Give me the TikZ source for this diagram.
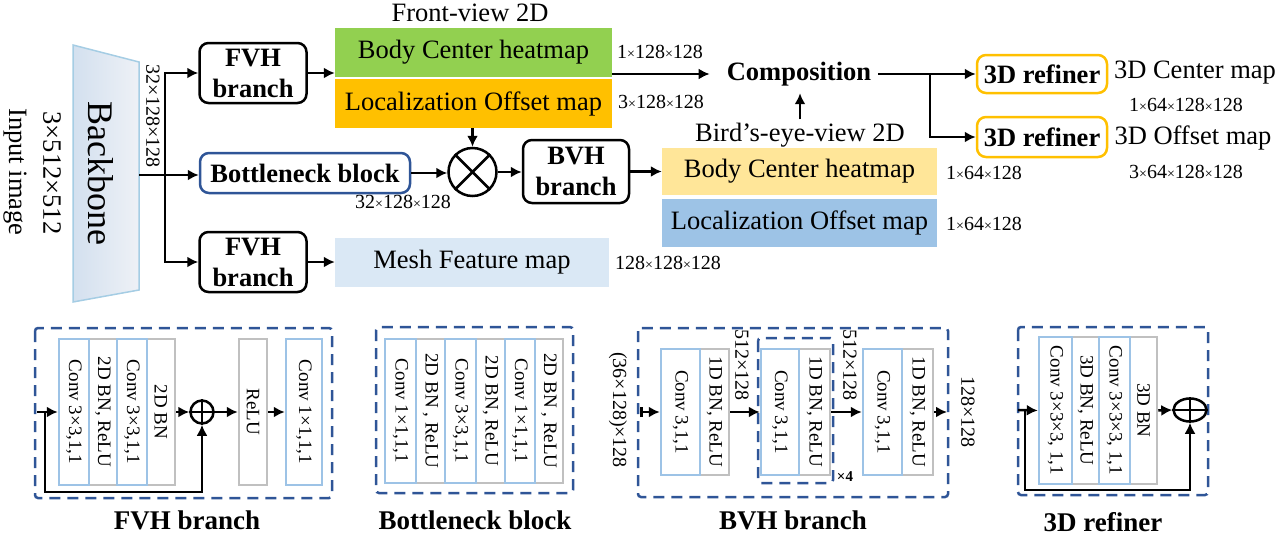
\documentclass[tikz,border=0pt]{standalone}
\usepackage{fontspec}
\usepackage{graphicx}
\setmainfont{Liberation Serif}
\usetikzlibrary{arrows.meta,shapes.geometric}
\definecolor{greenmap}{HTML}{92D050}
\definecolor{orangemap}{HTML}{FFC000}
\definecolor{yellowmap}{HTML}{FFE699}
\definecolor{bluemap}{HTML}{9DC3E6}
\definecolor{meshmap}{HTML}{DAE8F5}
\definecolor{darkblue}{HTML}{2F5597}
\definecolor{convblue}{HTML}{9DC3E6}
\definecolor{bngray}{HTML}{C0C0C0}
\definecolor{bbedge}{HTML}{A5CDE4}
\definecolor{bbleft}{HTML}{D3E0EF}
\definecolor{bbright}{HTML}{EEF1F6}
\newcommand{\mainfs}{\fontsize{26.5}{31}\selectfont}
\newcommand{\dimfs}{\fontsize{20}{22}\selectfont}
\newcommand{\layerfs}{\fontsize{19}{21}\selectfont}
\tikzstyle{blockbox}=[draw=black,line width=2.5pt,rounded corners=9pt,
                      align=center,font=\mainfs\bfseries,inner sep=0pt]
\tikzstyle{mapbox}=[minimum width=277,minimum height=49,
                    inner sep=0pt,font=\mainfs]
\tikzstyle{layer}=[line width=2.5pt,inner sep=0pt,font=\layerfs]
\tikzstyle{convlayer}=[layer,draw=convblue]
\tikzstyle{bnlayer}=[layer,draw=bngray]
\tikzstyle{dashbox}=[draw=darkblue,line width=2.5pt,
                     dash pattern=on 11pt off 7pt,rounded corners=3pt]
\tikzstyle{arr}=[line width=2.5pt,-{Latex[length=11pt,width=11pt]}]
\tikzstyle{wire}=[line width=2.5pt]
\tikzstyle{sumdot}=[draw=black,line width=2.5pt,inner sep=0pt]
\tikzstyle{titlelab}=[font=\fontsize{27}{30}\selectfont\bfseries]

\begin{document}
\begin{tikzpicture}[x=1pt,y=-1pt]
    \newcommand{\smx}{{\fontsize{14}{14}\selectfont×}}
    \useasboundingbox (0,0) rectangle (1288,538);

    % top part
    \shade[left color=bbleft,right color=bbright,draw=bbedge,line width=1.5pt]
        (73,45) -- (139,62) -- (139,290) -- (73,302) -- cycle;
    \node (bb) at (101,173) [rotate=-90,font=\fontsize{36}{40}\selectfont]{Backbone};
    \node (insize) at (52,173) [rotate=-90,font=\mainfs]{3×512×512};
    \node (inimg) at (15,172) [rotate=-90,font=\mainfs]{Input image};
    \node (bbsize) at (153,116) [rotate=-90,font=\dimfs]{32×128×128};
    \coordinate (bbout) at (139,175);
    \coordinate (split) at (165,175);

    \node (fvhA) at (253,73) [blockbox,minimum width=107,minimum height=60]{FVH\\branch};
    \node (neck) at (305,173) [blockbox,draw=darkblue,minimum width=210,minimum height=40]{Bottleneck block};
    \node (fvhB) at (253,262) [blockbox,minimum width=107,minimum height=60]{FVH\\branch};
    \draw[wire] (bbout) -- (split);
    \draw[arr] (split) |- (fvhA.west);
    \draw[arr] (split) -- (split -| neck.west);
    \draw[arr] (split) |- (fvhB.west);

    \node (fv) at (470,13) [font=\mainfs]{Front-view 2D};
    \node (center2d) at (473.5,52) [mapbox,fill=greenmap]{Body Center heatmap};
    \node (offset2d) at (473.5,103.5) [mapbox,fill=orangemap]{Localization Offset map};
    \node (c2dsize) at (660,52) [font=\dimfs]{1\smx128\smx128};
    \node (o2dsize) at (661,102) [font=\dimfs]{3\smx128\smx128};
    \draw[arr] (fvhA.east) -- (fvhA.east -| center2d.west);

    \node (mesh) at (472,262.5) [mapbox,minimum width=274,fill=meshmap]{Mesh Feature map};
    \node (meshsize) at (668,263) [font=\dimfs]{128\smx128\smx128};
    \draw[arr] (fvhB.east) -- (fvhB.east -| mesh.west);

    \node (mul) at (472.5,172) [circle,draw=black,line width=2.5pt,minimum size=48,inner sep=0pt]{};
    \draw[wire] (mul.north west) -- (mul.south east) (mul.north east) -- (mul.south west);
    \draw[arr] (mul.north |- offset2d.south) -- (mul.north);
    \draw[arr] (neck.east) -- (neck.east -| mul.west);
    \node (necksize) at (403,202) [font=\dimfs]{32\smx128\smx128};
    \node (bvh) at (576,171.5) [blockbox,minimum width=106,minimum height=63]{BVH\\branch};
    \draw[arr] (mul.east) -- (mul.east -| bvh.west);

    \node (centerbev) at (799.5,171.5) [mapbox,minimum width=275,minimum height=47,fill=yellowmap]{Body Center heatmap};
    \node (offsetbev) at (799.5,223) [mapbox,minimum width=275,minimum height=48,fill=bluemap]{Localization Offset map};
    \node (cbevsize) at (984,173) [font=\dimfs]{1\smx64\smx128};
    \node (obevsize) at (984,224) [font=\dimfs]{1\smx64\smx128};
    \draw[arr] (bvh.east) -- (bvh.east -| centerbev.west);

    \node (comp) at (799,74) [font=\mainfs\bfseries,inner sep=7pt]{Composition};
    \node (bev) at (800,135) [font=\mainfs]{Bird’s-eye-view 2D};
    \draw[arr,shorten >=10pt] (center2d.east |- comp) -- (comp.west);
    \draw[arr] (bev.north) -- (bev.north |- comp.south);

    \node (refA) at (1042,74) [blockbox,draw=orangemap,minimum width=130,minimum height=38]{3D refiner};
    \node (refB) at (1042,137) [blockbox,draw=orangemap,minimum width=130,minimum height=40]{3D refiner};
    \coordinate (fork) at (930,74);
    \draw[arr] (comp.east) -- (refA.west);
    \draw[arr] (fork) |- (refB.west);
    \node (cmap) at (1195,73) [font=\mainfs]{3D Center map};
    \node (cmapsize) at (1186,105) [font=\dimfs]{1\smx64\smx128\smx128};
    \node (omap) at (1193,138) [font=\mainfs]{3D Offset map};
    \node (omapsize) at (1186,172) [font=\dimfs]{3\smx64\smx128\smx128};

    % FVH branch
    \draw[dashbox] (35,328) rectangle (332,498);
    \node (fb1) at (103,412) [bnlayer,minimum width=28,minimum height=146]{\rotatebox{-90}{2D BN, ReLU}};
    \node (fb2) at (161,412) [bnlayer,minimum width=28,minimum height=146]{\rotatebox{-90}{2D BN}};
    \node (frelu) at (253,412) [bnlayer,minimum width=28,minimum height=146]{\rotatebox{-90}{ReLU}};
    \node (fc1) at (74,412) [convlayer,minimum width=30,minimum height=146]{\rotatebox{-90}{Conv 3×3,1,1}};
    \node (fc2) at (132,412) [convlayer,minimum width=30,minimum height=146]{\rotatebox{-90}{Conv 3×3,1,1}};
    \node (fc3) at (304,412) [convlayer,minimum width=36,minimum height=146]{\rotatebox{-90}{Conv 1×1,1,1}};
    \node (fplus) at (202,412) [sumdot,circle,minimum size=23]{};
    \draw[line width=2pt] (fplus.north) -- (fplus.south) (fplus.west) -- (fplus.east);
    \coordinate (fin) at (37,412);
    \coordinate (fskip) at (45,412);
    \coordinate (fbot) at (45,492);
    \draw[arr] (fin) -- (fc1.west);
    \draw[arr] (fskip) -- (fbot) -| (fplus.south);
    \draw[arr] (fb2.east) -- (fplus.west);
    \draw[arr] (fplus.east) -- (frelu.west);
    \draw[arr] (frelu.east) -- (fc3.west);
    \node (fvhlab) at (187,520) [titlelab]{FVH branch};

    % Bottleneck block
    \draw[dashbox] (376,327) rectangle (573,493);
    \node (nb1) at (430.5,411) [bnlayer,minimum width=29,minimum height=144]{\rotatebox{-90}{2D BN , ReLU}};
    \node (nb2) at (490.5,411) [bnlayer,minimum width=29,minimum height=144]{\rotatebox{-90}{2D BN, ReLU}};
    \node (nb3) at (549,411) [bnlayer,minimum width=28,minimum height=144]{\rotatebox{-90}{2D BN , ReLU}};
    \node (nc1) at (400.5,411) [convlayer,minimum width=31,minimum height=144]{\rotatebox{-90}{Conv 1×1,1,1}};
    \node (nc2) at (460.5,411) [convlayer,minimum width=31,minimum height=144]{\rotatebox{-90}{Conv 3×3,1,1}};
    \node (nc3) at (520,411) [convlayer,minimum width=30,minimum height=144]{\rotatebox{-90}{Conv 1×1,1,1}};
    \node (necklab) at (475,520) [titlelab]{Bottleneck block};

    % BVH branch
    \draw[dashbox] (638,328) rectangle (948,497);
    \draw[dashbox] (758,338) rectangle (833,483);
    \node (bb1) at (714.5,412) [bnlayer,minimum width=29,minimum height=126]{\rotatebox{-90}{1D BN, ReLU}};
    \node (bb2) at (814.5,412) [bnlayer,minimum width=31,minimum height=126]{\rotatebox{-90}{1D BN, ReLU}};
    \node (bb3) at (917.5,412) [bnlayer,minimum width=31,minimum height=126]{\rotatebox{-90}{1D BN, ReLU}};
    \node (bc1) at (680.5,412) [convlayer,minimum width=39,minimum height=126]{\rotatebox{-90}{Conv 3,1,1}};
    \node (bc2) at (780,412) [convlayer,minimum width=38,minimum height=126]{\rotatebox{-90}{Conv 3,1,1}};
    \node (bc3) at (882.5,412) [convlayer,minimum width=39,minimum height=126]{\rotatebox{-90}{Conv 3,1,1}};
    \coordinate (bin) at (640,412);
    \coordinate (bout) at (947,412);
    \draw[line width=2.5pt,{Bar[width=10pt]}-{Latex[length=11pt,width=11pt]}] (bin) -- (bc1.west);
    \draw[arr] (bb1.east) -- (bc2.west);
    \draw[arr] (bb2.east) -- (bc3.west);
    \draw[arr] (bb3.east) -- (bout);
    \node (bvhin) at (618,410) [rotate=-90,font=\dimfs]{(36×128)×128};
    \node (bvhmidA) at (742,365) [rotate=-90,font=\dimfs]{512×128};
    \node (bvhmidB) at (850,365) [rotate=-90,font=\dimfs]{512×128};
    \node (bvhout) at (968,412) [rotate=-90,font=\dimfs]{128×128};
    \node (rep) at (845,477) [font=\fontsize{15}{16}\selectfont\bfseries]{×4};
    \node (bvhlab) at (793,520) [titlelab]{BVH branch};

    % 3D refiner
    \draw[dashbox] (1018,327) rectangle (1208,495);
    \node (rb1) at (1085.5,410.5) [bnlayer,minimum width=27,minimum height=147]{\rotatebox{-90}{3D BN, ReLU}};
    \node (rb2) at (1143.5,410.5) [bnlayer,minimum width=27,minimum height=147]{\rotatebox{-90}{3D BN}};
    \node (rc1) at (1055.5,410.5) [convlayer,minimum width=33,minimum height=147]{\rotatebox{-90}{Conv 3×3×3, 1,1}};
    \node (rc2) at (1114.5,410.5) [convlayer,minimum width=31,minimum height=147]{\rotatebox{-90}{Conv 3×3×3, 1,1}};
    \node (rplus) at (1190,410) [sumdot,ellipse,minimum width=33,minimum height=23]{};
    \draw[line width=2pt] (rplus.north) -- (rplus.south) (rplus.west) -- (rplus.east);
    \coordinate (rin) at (1018,410);
    \coordinate (rskip) at (1025,410);
    \coordinate (rbot) at (1025,490);
    \draw[arr] (rin) -- (rc1.west);
    \draw[arr] (rskip) -- (rbot) -| (rplus.south);
    \draw[arr] (rb2.east) -- (rplus.west);
    \node (reflab) at (1103,522) [titlelab]{3D refiner};
\end{tikzpicture}
\end{document}
